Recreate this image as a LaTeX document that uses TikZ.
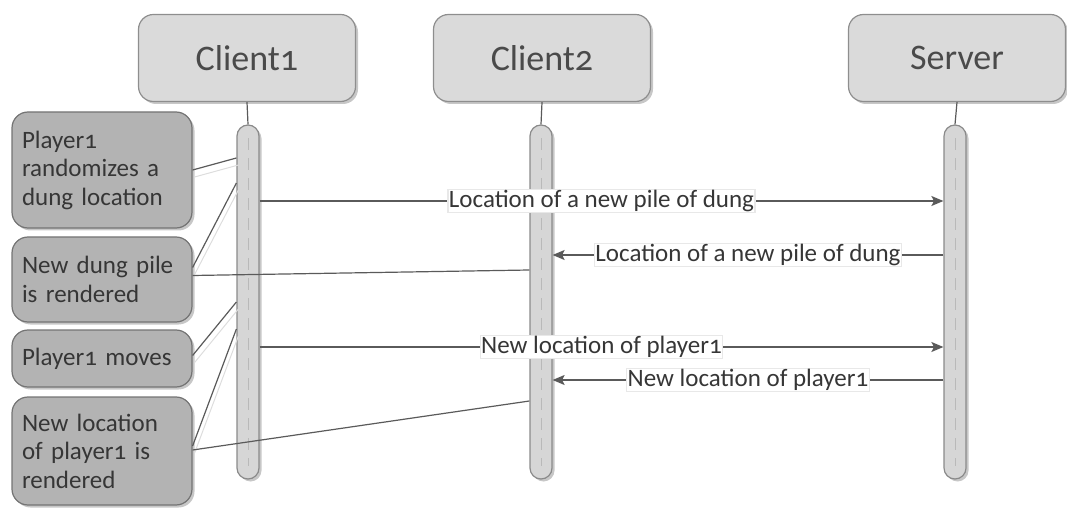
\documentclass[tikz,border=0pt]{standalone}
\usepackage{fontspec}
\setmainfont{Carlito}[Numbers=OldStyle]
\usetikzlibrary{arrows.meta,shadows,calc}
\definecolor{ink}{HTML}{363636}
\definecolor{headink}{HTML}{4A4A4A}
\definecolor{wire}{HTML}{5A5A5A}
\definecolor{wireshade}{HTML}{DDDDDD}
\definecolor{headfill}{HTML}{DADADA}
\definecolor{headline}{HTML}{8E8E8E}
\definecolor{notefill}{HTML}{B3B3B3}
\definecolor{noteline}{HTML}{747474}
\definecolor{barfill}{HTML}{D6D6D6}
\definecolor{barline}{HTML}{8A8A8A}
\tikzset{
  softshadow/.style={drop shadow={shadow xshift=2.5pt,shadow yshift=-2.5pt,opacity=0.22,fill=black}},
  head/.style={draw=headline,line width=1.2pt,fill=headfill,rounded corners=15pt,
    minimum width=217pt,minimum height=87pt,inner sep=0pt,text=headink,
    font=\fontsize{36}{43}\selectfont,softshadow},
  note/.style={draw=noteline,line width=1.2pt,fill=notefill,rounded corners=16pt,
    minimum width=180pt,text width=160pt,align=left,inner sep=0pt,text=ink,
    font=\fontsize{25}{28.5}\selectfont,softshadow},
  actbar/.style={draw=barline,line width=1.2pt,fill=barfill,rounded corners=11pt,
    minimum width=22pt,inner sep=0pt,softshadow},
  stem/.style={draw=wire,line width=1.2pt},
  lifedash/.style={draw=gray!55,line width=1pt,dash pattern=on 12pt off 8pt},
  wireline/.style={draw=wire,line width=1.2pt},
  shadedwire/.style={wireline,
    preaction={draw=wireshade,line width=1pt,transform canvas={xshift=2pt,yshift=-7pt}}},
  msg/.style={draw=wire,line width=1.2pt,-{Stealth[length=12pt,width=10pt,inset=2.5pt]}},
  lbl/.style={fill=white,draw=gray!18,inner sep=1pt,text=ink,
    font=\fontsize{25}{28}\selectfont},
}
\begin{document}
\begin{tikzpicture}[x=1pt,y=-1pt]
\useasboundingbox (0,0) rectangle (1067,510);

% participants
\node[head] (client1) at (247,58) {Client1};
\node[head] (client2) at (542,58) {Client2};
\node[head] (server)  at (957,58) {Server};

% activation bars
\node[actbar,minimum height=354pt] (c1bar) at (248,302) {};
\node[actbar,minimum height=354pt] (c2bar) at (541,302) {};
\node[actbar,minimum height=354pt] (svbar) at (955,302) {};

\foreach \b in {c1bar,c2bar,svbar}{
  \draw[lifedash] ($(\b.north)+(0,14)$) -- ($(\b.south)+(0,-14)$);
}

% stems from heads to bars
\draw[stem] (client1.south) -- (c1bar.north);
\draw[stem] (client2.south) -- (c2bar.north);
\draw[stem] (server.south) -- (svbar.north);

% local events on the left
\node[note,minimum height=116pt] (n1) at (102,170) {Player1\\randomizes a\\dung location};
\node[note,minimum height=85pt]  (n2) at (102,279.5) {New dung pile\\is rendered};
\node[note,minimum height=57pt]  (n3) at (102,358.5) {Player1 moves};
\node[note,minimum height=108pt] (n4) at (102,451) {New location\\of player1 is\\rendered};

% anchor heights on the bars
\coordinate (h158) at (0,158);
\coordinate (h183) at (0,183);
\coordinate (h200) at (0,201);
\coordinate (h255) at (0,255);
\coordinate (h270) at (0,270);
\coordinate (h302) at (0,302);
\coordinate (h329) at (0,329);
\coordinate (h347) at (0,347);
\coordinate (h380) at (0,380);
\coordinate (h401) at (0,401);

% links from the events to the bars
\draw[shadedwire] ($(n1.east)+(0,0)$) -- (c1bar.west |- h158);
\draw[shadedwire] ($(n2.east)+(0,-12)$) -- (c1bar.west |- h183);
\draw[wireline] ($(n2.east)+(0,-4)$) -- (c2bar.west |- h270);
\draw[shadedwire] ($(n3.east)+(0,-3)$) -- (c1bar.west |- h302);
\draw[shadedwire] ($(n4.east)+(0,-5)$) -- (c1bar.west |- h329);
\draw[wireline] ($(n4.east)+(0,-1)$) -- (c2bar.west |- h401);

% messages
\draw[msg] (c1bar.east |- h200) -- node[lbl] {Location of a new pile of dung} (svbar.west |- h200);
\draw[msg] (svbar.west |- h255) -- node[lbl] {Location of a new pile of dung} (c2bar.east |- h255);
\draw[msg] (c1bar.east |- h347) -- node[lbl] {New location of player1} (svbar.west |- h347);
\draw[msg] (svbar.west |- h380) -- node[lbl] {New location of player1} (c2bar.east |- h380);
\end{tikzpicture}
\end{document}
